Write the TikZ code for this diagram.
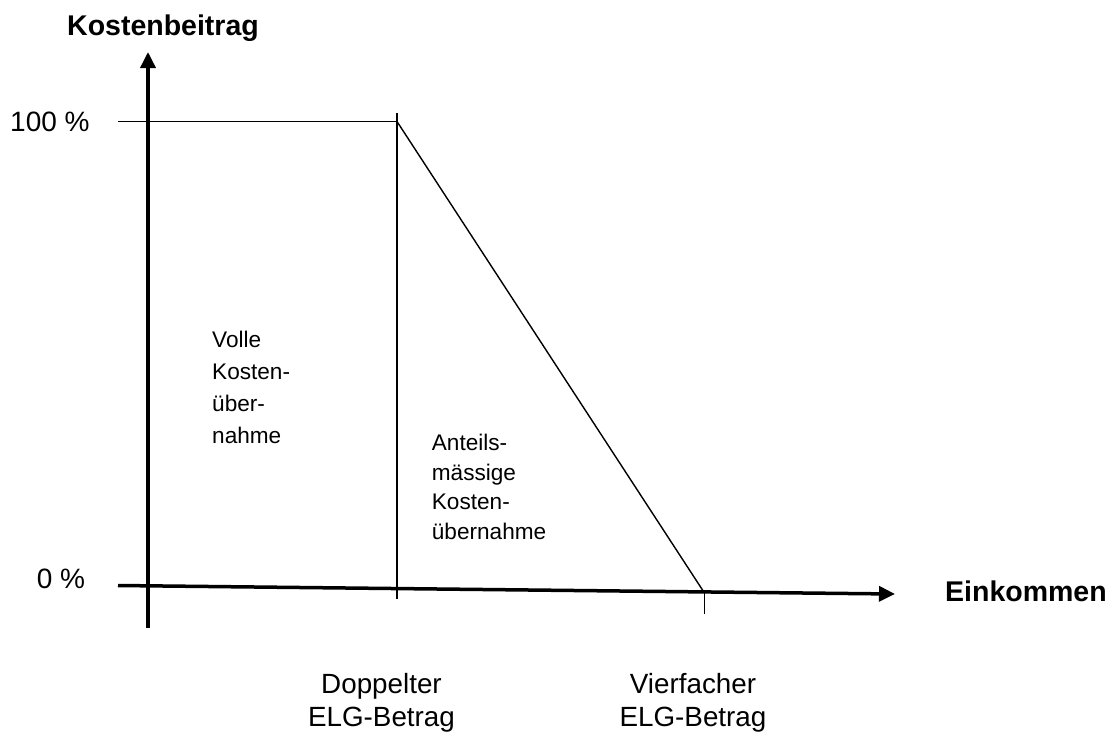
\documentclass[tikz,border=0pt]{standalone}
\usepackage{fontspec}
\setmainfont{Liberation Sans}
\usetikzlibrary{arrows.meta}
\begin{document}
\begin{tikzpicture}[x=1pt,y=-1pt,
  axis/.style={line width=3.5pt,-{Triangle[length=16pt,width=15pt]}},
  thinline/.style={line width=1.4pt},
  axislabel/.style={font=\fontsize{28.5}{33}\selectfont\bfseries,inner sep=0pt},
  tickl/.style={font=\fontsize{28}{33}\selectfont,inner sep=0pt},
  area/.style={font=\fontsize{22.6}{32}\selectfont,inner sep=0pt,align=left,anchor=north west},
  xlab/.style={font=\fontsize{27.8}{33.5}\selectfont,inner sep=0pt,align=center,anchor=north}]
\useasboundingbox (0,0) rectangle (1115,734);
% coordinates
\coordinate (ybot) at (148,628);
\coordinate (ytop) at (148,52);
\coordinate (xleft) at (118,585.5);
\coordinate (xright) at (895,594);
\coordinate (hstart) at (118,121.5);
\coordinate (knee) at (397,121.5);
\coordinate (vtop) at (397,113);
\coordinate (vbot) at (397,599);
\coordinate (zero) at (703.5,591.5);
\coordinate (ttop) at (704.5,591.5);
\coordinate (tbot) at (704.5,614);
% lines
\draw[thinline] (hstart) -- (knee);
\draw[thinline] (vtop) -- (vbot);
\draw[thinline] (knee) -- (zero);
\draw[thinline] (ttop) -- (tbot);
\draw[axis] (ybot) -- (ytop);
\draw[axis] (xleft) -- (xright);
% labels
\node[axislabel,anchor=base west] (ylab) at (67,35) {Kostenbeitrag};
\node[axislabel,anchor=base west] (xlabel) at (945,601) {Einkommen};
\node[tickl,anchor=base west] (hundred) at (10,131.5) {100 \%};
\node[tickl,anchor=base west] (nought) at (36.7,588) {0 \%};
\node[area] (voll) at (212,330.5) {Volle\\Kosten-\\über-\\nahme};
\node[area,font=\fontsize{22.6}{29.5}\selectfont] (anteil) at (431.7,434) {Anteils-\\mässige\\Kosten-\\übernahme};
\node[xlab] (dopp) at (381.5,673) {Doppelter\\ELG-Betrag};
\node[xlab] (vier) at (693,673) {Vierfacher\\ELG-Betrag};
\end{tikzpicture}
\end{document}
